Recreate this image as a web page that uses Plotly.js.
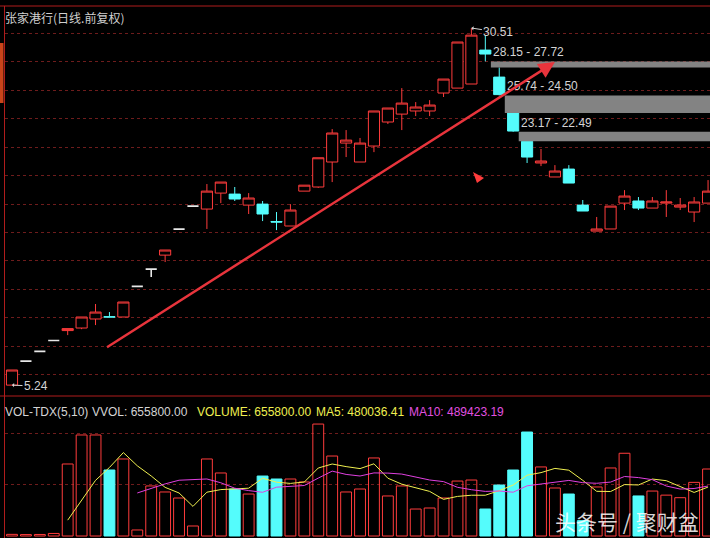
<!DOCTYPE html>
<html><head><meta charset="utf-8">
<script src="https://cdn.plot.ly/plotly-3.0.1.min.js"></script>
<style>html,body{margin:0;padding:0;background:#000;overflow:hidden}#chart{width:710px;height:538px;}</style>
</head><body><div id="chart"></div>
<script>
// ---------- data ----------
const dayIndex = [0,1,2,3,4,5,6,7,8,9,10,11,12,13,14,15,16,17,18,19,20,21,22,23,24,25,26,27,28,29,30,31,32,33,34,35,36,37,38,39,40,41,42,43,44,45,46,47,48,49,50];
const openP  = [5.24,6.94,7.63,8.40,9.10,9.28,9.92,10.08,10.06,12.23,13.45,14.44,16.28,17.91,17.70,18.83,18.76,17.98,18.05,16.82,16.50,18.97,19.26,21.03,22.37,21.03,22.16,23.86,24.42,24.64,24.64,25.91,26.26,26.55,28.95,27.04,24.50,22.49,20.96,19.97,20.53,17.98,16.14,16.29,18.12,18.27,17.77,18.12,17.84,17.49,18.12];
const highP  = [6.31,6.94,7.63,8.40,9.24,10.06,10.98,10.41,11.12,12.23,13.45,14.80,16.28,17.91,19.47,19.61,19.26,18.83,18.27,17.49,18.05,19.39,21.33,23.36,23.29,22.73,24.64,24.85,26.26,25.27,25.41,26.90,29.52,30.51,30.01,27.72,24.50,22.49,21.95,20.81,20.81,18.34,17.14,17.91,19.04,18.55,18.55,19.04,18.48,18.55,19.75];
const lowP   = [5.24,6.94,7.63,8.40,8.78,9.20,9.49,10.06,10.06,12.23,12.89,13.95,16.28,17.91,16.29,18.12,18.27,17.35,16.85,16.21,16.50,18.97,19.20,19.61,21.38,21.03,21.73,23.72,23.29,24.28,24.28,25.63,26.26,26.55,28.15,25.74,23.17,20.96,20.74,19.97,19.54,17.56,16.14,16.29,17.63,17.63,17.77,17.14,17.63,16.78,18.12];
const closeP = [6.31,6.94,7.63,8.40,9.24,10.06,10.41,10.06,11.12,12.23,13.45,14.80,16.28,17.91,18.97,19.61,18.41,18.48,17.35,16.78,17.63,19.39,21.33,23.08,22.58,22.37,24.64,24.85,25.20,24.92,25.06,26.90,29.52,30.01,28.67,25.80,23.22,21.38,21.10,20.39,19.54,17.56,16.29,17.91,18.62,17.77,18.27,18.20,17.98,18.20,18.97];
const volume = [16000,14000,15000,25000,705000,989000,989000,646000,754000,59000,
                490000,431000,372000,98000,754000,617000,460000,411000,587000,558000,
                558000,529000,1096000,783000,431000,460000,764000,392000,490000,264000,
                274000,372000,538000,548000,264000,499000,646000,1018000,676000,470000,
                411000,150000,480000,666000,810000,392000,440000,400000,375000,525000,655800];
// price gaps (index of the day before the gap, upper and lower edge)
const gapDay  = [34,35,36];
const gapHigh = [28.15,25.74,23.17];
const gapLow  = [27.72,24.50,22.49];
// extreme markers
const extremeDay   = [33,0];
const extremePrice = [30.51,5.24];
// legend texts of the volume panel
const chartTitle = '张家港行(日线.前复权)';
const volLegend = ['VOL-TDX(5,10)','VVOL: 655800.00','VOLUME: 655800.00','MA5: 480036.41','MA10: 489423.19'];
const watermark = '头条号 / 聚财盆';

// ---------- styles ----------
const RED='#ff3c3c', CYAN='#54fcfc', WHITE='#e8e8e8', GRID='#6e1c1c', FRAME='#b01c1c';
const W=710,H=538,ML=5;
const pxX = p => (p-ML)/(W-ML);
const pxY = p => 1 - p/H;

function pick(cond){
  const r={x:[],open:[],high:[],low:[],close:[]};
  dayIndex.forEach((d,i)=>{ if(cond(i)){ r.x.push(d); r.open.push(openP[i]); r.high.push(highP[i]); r.low.push(lowP[i]); r.close.push(closeP[i]); }});
  return r;
}
function candle(sel,col,fill,w){
  return Object.assign({type:'candlestick',xaxis:'x',yaxis:'y',whiskerwidth:0,hoverinfo:'skip',showlegend:false,
    increasing:{line:{color:col,width:w},fillcolor:fill},
    decreasing:{line:{color:col==='RED'?col:col,width:w},fillcolor:fill}},sel);
}
const upS=pick(i=>closeP[i]>openP[i]), dnS=pick(i=>closeP[i]<openP[i]), flS=pick(i=>closeP[i]===openP[i]);
const traces=[
  candle(upS,RED,'#000',1),
  candle(dnS,CYAN,CYAN,1),
  candle(flS,WHITE,WHITE,1.6)
];
// volume bars
const isDown = dayIndex.map(i=>closeP[i]<openP[i]);
traces.push({type:'bar',x:dayIndex,y:volume,yaxis:'y2',xaxis:'x',width:0.78,hoverinfo:'skip',
  marker:{color:isDown.map(d=>d?CYAN:'rgba(0,0,0,0)'),line:{color:isDown.map(d=>d?CYAN:RED),width:1}}});
// moving averages of volume
function ma(n){const xs=[],ys=[];for(let i=n-1;i<volume.length;i++){let s=0;for(let k=i-n+1;k<=i;k++)s+=volume[k];xs.push(dayIndex[i]);ys.push(s/n);}return {xs,ys};}
const m5=ma(5), m10=ma(10);
traces.push({type:'scatter',mode:'lines',x:m5.xs,y:m5.ys,yaxis:'y2',line:{color:'#f0f050',width:1},hoverinfo:'skip'});
traces.push({type:'scatter',mode:'lines',x:m10.xs,y:m10.ys,yaxis:'y2',line:{color:'#e040e0',width:1},hoverinfo:'skip'});

// ---------- shapes ----------
const shapes=[];
gapDay.forEach((d,k)=>shapes.push({type:'rect',xref:'x',yref:'y',x0:d+0.4,x1:50.2,y0:gapLow[k],y1:gapHigh[k],fillcolor:'#838383',line:{width:0},layer:'above'}));
shapes.push({type:'line',xref:'paper',yref:'paper',x0:pxX(0),x1:1,y0:pxY(6),y1:pxY(6),line:{color:FRAME,width:1}});
shapes.push({type:'line',xref:'paper',yref:'paper',x0:pxX(0),x1:1,y0:pxY(396),y1:pxY(396),line:{color:FRAME,width:1}});
shapes.push({type:'line',xref:'paper',yref:'paper',x0:pxX(4.5),x1:pxX(4.5),y0:pxY(6),y1:0,line:{color:FRAME,width:1}});
shapes.push({type:'rect',xref:'paper',yref:'paper',x0:pxX(0),x1:pxX(3.5),y0:pxY(103),y1:pxY(43),fillcolor:'#c8441a',line:{width:0}});
shapes.push({type:'path',xref:'paper',yref:'paper',path:`M ${pxX(473)} ${pxY(172)} L ${pxX(484)} ${pxY(178)} L ${pxX(477)} ${pxY(183)} Z`,fillcolor:'#ff3c3c',line:{width:0}});

// ---------- annotations ----------
const NUMF={family:'Liberation Sans, Arial, sans-serif',size:12,color:'#d4d4d4'};
const ann=[];
ann.push({xref:'paper',yref:'paper',x:pxX(3),y:pxY(17),xanchor:'left',yanchor:'middle',showarrow:false,text:chartTitle,
  font:{family:'Noto Sans CJK SC',size:12,color:'#cfcfcf'}});
// extremes
ann.push({xref:'x',yref:'y',x:extremeDay[0],y:extremePrice[0],text:extremePrice[0].toFixed(2),showarrow:true,ax:27,ay:4,
  arrowhead:1,arrowsize:0.7,arrowwidth:1,arrowcolor:'#d4d4d4',font:NUMF});
ann.push({xref:'x',yref:'y',x:extremeDay[1],y:extremePrice[1],text:extremePrice[1].toFixed(2),showarrow:true,ax:24,ay:1,
  arrowhead:1,arrowsize:0.7,arrowwidth:1,arrowcolor:'#d4d4d4',font:NUMF});
// gap labels
gapDay.forEach((d,k)=>ann.push({xref:'x',yref:'y',x:d+0.4,y:gapHigh[k],xanchor:'left',yanchor:'bottom',showarrow:false,
  text:gapHigh[k].toFixed(2)+' - '+gapLow[k].toFixed(2),font:NUMF}));
// trend arrow
ann.push({xref:'x',yref:'y',axref:'x',ayref:'y',x:39.0,y:28.10,ax:6.61,ay:7.79,text:' ',showarrow:true,
  arrowhead:2,arrowsize:1.3,arrowwidth:2.5,arrowcolor:'#e8343c'});
// volume legend
const legX=[3,90,195,314,407], legC=['#d4d4d4','#d4d4d4','#f0f050','#f0f050','#e050e0'];
volLegend.forEach((t,k)=>ann.push({xref:'paper',yref:'paper',x:pxX(legX[k]),y:pxY(412),xanchor:'left',yanchor:'middle',showarrow:false,
  text:t,font:{family:'Liberation Sans, Arial, sans-serif',size:12,color:legC[k]}}));
ann.push({xref:'paper',yref:'paper',x:pxX(627),y:pxY(521),xanchor:'center',yanchor:'middle',showarrow:false,text:watermark,
  font:{family:'Noto Sans CJK SC',size:21,color:'rgba(255,255,255,0.85)'}});

const layout={
  width:W,height:H,paper_bgcolor:'#000',plot_bgcolor:'#000',margin:{l:ML,r:0,t:0,b:0},showlegend:false,
  boxgap:0.2,boxgroupgap:0,bargap:0,
  xaxis:{range:[-0.503,50.14],anchor:'y2',showgrid:false,zeroline:false,showticklabels:false,showline:false,ticks:'',rangeslider:{visible:false},fixedrange:true},
  yaxis:{domain:[pxY(396),pxY(6)],range:[4.47,32.07],showgrid:true,gridcolor:GRID,griddash:'dot',gridwidth:1,tick0:30.12,dtick:2.011,
    showticklabels:false,zeroline:false,ticks:'',fixedrange:true},
  yaxis2:{domain:[0,pxY(396)],range:[-19580,1370600],tickvals:[500000,1000000],showgrid:true,gridcolor:GRID,griddash:'dot',
    showticklabels:false,zeroline:false,ticks:'',fixedrange:true},
  shapes:shapes,annotations:ann
};
Plotly.newPlot('chart',traces,layout,{staticPlot:true,displayModeBar:false});
</script></body></html>
